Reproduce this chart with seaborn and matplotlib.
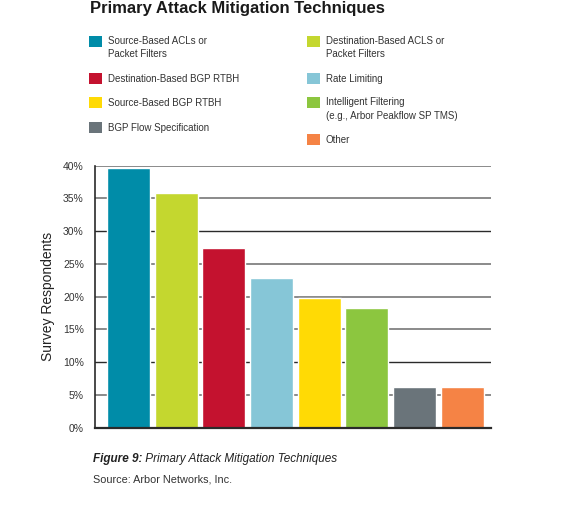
import matplotlib
matplotlib.use("Agg")
import matplotlib.pyplot as plt
from matplotlib.patches import Patch, Rectangle
from matplotlib.legend_handler import HandlerPatch
import pandas as pd
import seaborn as sns

# data
techniques = ["Source-Based ACLs or\nPacket Filters",
              "Destination-Based ACLS or\nPacket Filters",
              "Destination-Based BGP RTBH",
              "Rate Limiting",
              "Source-Based BGP RTBH",
              "Intelligent Filtering\n(e.g., Arbor Peakflow SP TMS)",
              "BGP Flow Specification",
              "Other"]
respondents = [39.6, 35.8, 27.4, 22.9, 19.8, 18.3, 6.2, 6.2]
colors = ["#008CA8", "#C4D72F", "#C4122F", "#86C6D7",
          "#FFDA05", "#8CC63F", "#6A747A", "#F58345"]
yticks = [0, 5, 10, 15, 20, 25, 30, 35, 40]

# legend is laid out in two columns, in this order
left_col = [0, 2, 4, 6]
right_col = [1, 3, 5, 7]

sns.set_theme(style="white")
plt.rcParams["font.family"] = ["Liberation Sans", "DejaVu Sans"]

df = pd.DataFrame({"technique": techniques, "pct": respondents})

fig = plt.figure(figsize=(5.61, 5.13), dpi=100)
ax = fig.add_axes([95 / 561, 1 - 427.7 / 513, 396 / 561, 262 / 513])

sns.barplot(data=df, x="technique", y="pct", hue="technique",
            palette=colors, width=0.9, saturation=1, legend=False, ax=ax)

ax.set_xlim(-0.7, 7.6)
ax.set_ylim(0, 40)
ax.set_yticks(yticks)
ax.set_yticklabels([f"{t}%" for t in yticks], fontsize=7.5, color="#333333")
ax.set_xticks([])
ax.set_xlabel("")
ax.set_ylabel("Survey Respondents", fontsize=10, color="#222222", labelpad=6)
ax.tick_params(axis="y", length=0, pad=8)

ax.set_axisbelow(True)
ax.yaxis.grid(True, color="#8a8a8a", linewidth=1.4)
for t, gl in zip(yticks, ax.get_ygridlines()):
    if t in (10, 30):
        gl.set_color("#2a2a2a")
        gl.set_linewidth(1.0)

sns.despine(ax=ax, top=True, right=True)
ax.spines["left"].set_color("#2a2a2a")
ax.spines["bottom"].set_color("#2a2a2a")
ax.spines["left"].set_linewidth(1.2)
ax.spines["bottom"].set_linewidth(1.6)

# title
fig.text(90 / 561, 1 - 1 / 513, "Primary Attack Mitigation Techniques",
         fontsize=12, fontweight="bold", color="#1a1a1a", va="top", ha="left")


# squares sit at the top line of two-line labels
class TopSquare(HandlerPatch):
    def __init__(self, shift):
        super().__init__()
        self.shift = shift

    def create_artists(self, legend, orig_handle, xdescent, ydescent,
                       width, height, fontsize, trans):
        p = Rectangle((-xdescent, -ydescent + self.shift * fontsize),
                      width, height)
        self.update_prop(p, orig_handle, legend)
        p.set_transform(trans)
        return [p]


def make_legend(idx, x):
    handles = [Patch(facecolor=colors[i], edgecolor="none") for i in idx]
    labels = [techniques[i] for i in idx]
    hmap = {h: TopSquare(0.7 if "\n" in lab else 0.0)
            for h, lab in zip(handles, labels)}
    leg = fig.legend(handles, labels, loc="upper left",
                     bbox_to_anchor=(x / 561, 1 - 36 / 513),
                     frameon=False, fontsize=7, borderpad=0, borderaxespad=0,
                     handlelength=1.35, handleheight=1.35, handletextpad=0.6,
                     labelspacing=1.4, labelcolor="#333333",
                     handler_map=hmap)
    for t in leg.get_texts():
        t.set_linespacing(1.4)
    return leg


make_legend(left_col, 89)
make_legend(right_col, 307)

# caption
t1 = fig.text(93 / 561, 1 - 462 / 513, "Figure 9:", fontsize=8.5,
              fontweight="bold", fontstyle="italic", color="#222222",
              va="baseline", ha="left")
ax.annotate(" Primary Attack Mitigation Techniques", xy=(1, 0), xycoords=t1,
            fontsize=8.5, fontstyle="italic", color="#222222",
            va="bottom", ha="left", annotation_clip=False)
fig.text(93 / 561, 1 - 483 / 513, "Source: Arbor Networks, Inc.", fontsize=7.8,
         color="#333333", va="baseline", ha="left")

fig.savefig("out.png", dpi=100)
